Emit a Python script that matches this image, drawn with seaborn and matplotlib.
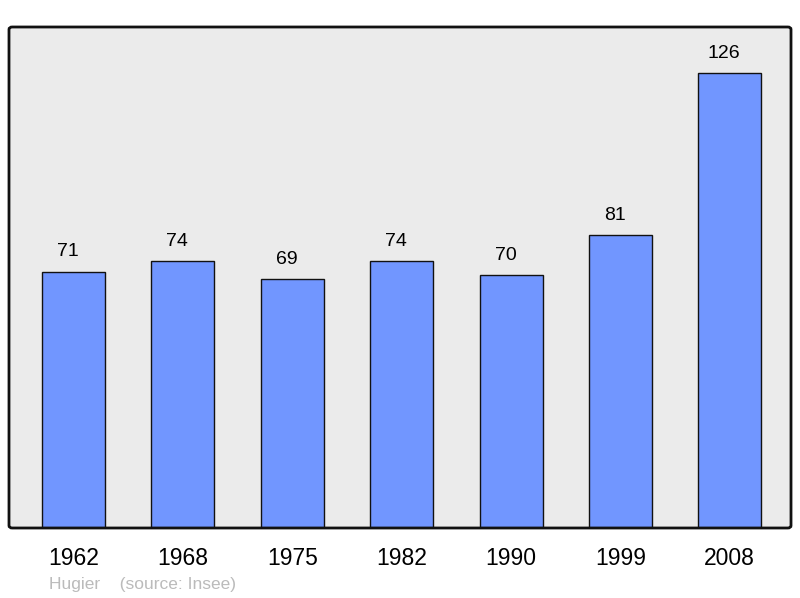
import numpy as np
import pandas as pd
import matplotlib.pyplot as plt
import seaborn as sns
from matplotlib.patches import FancyBboxPatch

years = ["1962", "1968", "1975", "1982", "1990", "1999", "2008"]
pop = [71, 74, 69, 74, 70, 81, 126]

df = pd.DataFrame({"year": years, "pop": pop})

sns.set_theme(style="white")
plt.rcParams['font.family'] = ['Liberation Sans', 'DejaVu Sans']

fig = plt.figure(figsize=(8, 5.98), dpi=100)
ax = fig.add_axes([9/800, 1-528/598, 782/800, 501/598])
ax.set_facecolor("#ebebeb")

sns.barplot(data=df, x="year", y="pop", color="#7196ff", saturation=1,
            width=0.576, edgecolor="#111111", linewidth=1, ax=ax)

ax.set_xlim(-0.59, 6.56)
ax.set_ylim(0, 138.7)
ax.set_yticks([])
ax.set_xlabel("")
ax.set_ylabel("")
ax.tick_params(axis="x", length=0, labelsize=16.5, pad=14, labelcolor="black")
for s in ax.spines.values():
    s.set_visible(False)

for i, v in enumerate(pop):
    ax.annotate(str(v), (i, v), xytext=(-4, 8), textcoords="offset points",
                ha="center", va="bottom", fontsize=14, color="black")

box = FancyBboxPatch((9/800, 1-528/598), 782/800, 501/598,
                     boxstyle="round,pad=0,rounding_size=0.004",
                     transform=fig.transFigure, fill=False,
                     edgecolor="#111111", linewidth=2, zorder=10)
fig.patches.append(box)

fig.text(49/800, 1-584/598, "Hugier    (source: Insee)", color="#bbbbbb",
         fontsize=12.5, va="center", ha="left")

fig.savefig("out.png", dpi=100)
